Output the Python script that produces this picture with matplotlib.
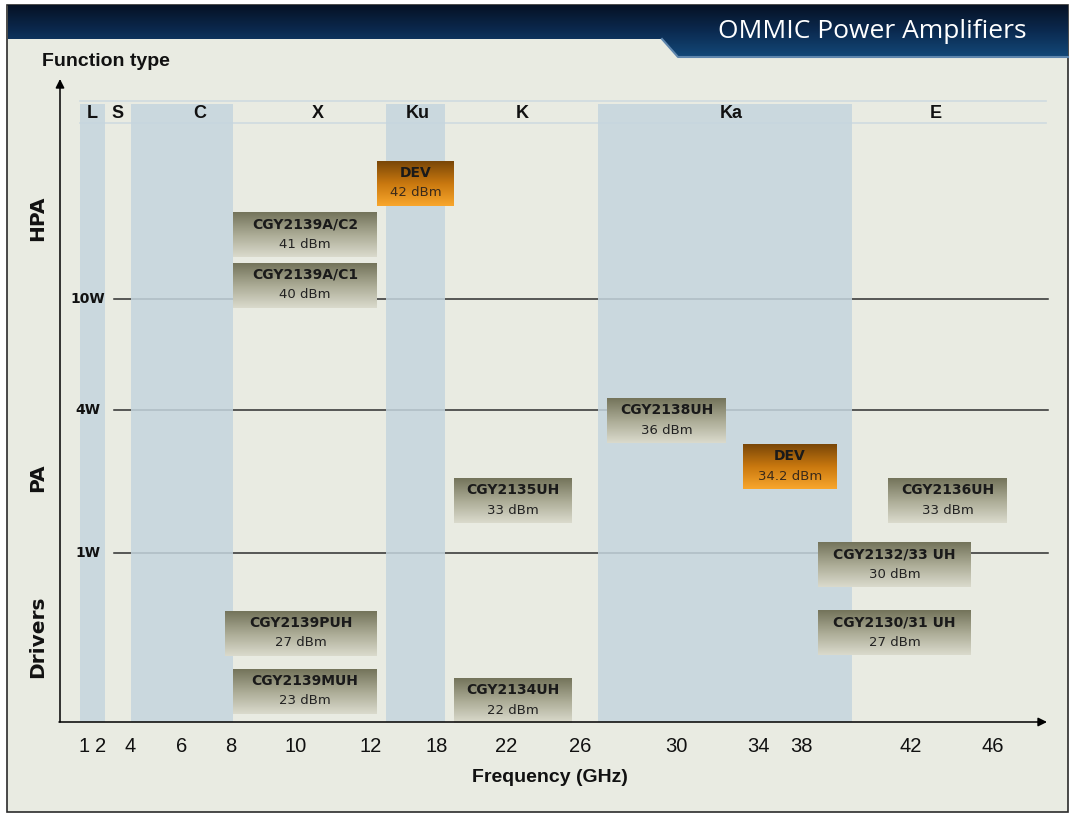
"""
Schéma OMMIC Power Amplifiers : fonction (HPA / PA / Drivers) vs bande de fréquence.
Sauve out.png (1076x815).
"""

import numpy as np
import matplotlib
matplotlib.use("Agg")
import matplotlib.pyplot as plt
from matplotlib.colors import LinearSegmentedColormap
from matplotlib.patches import Polygon, Rectangle

# --- données ---
BANDES = ["L", "S", "C", "X", "Ku", "K", "Ka", "E"]
BANDES_BLEUES = ["L", "C", "Ku", "Ka"]
FREQ_TICKS = ["1", "2", "4", "6", "8", "10", "12", "18", "22", "26",
              "30", "34", "38", "42", "46"]
NIVEAUX = ["10W", "4W", "1W"]
FONCTIONS = ["HPA", "PA", "Drivers"]

PUCES = ["DEV", "CGY2139A/C2", "CGY2139A/C1", "CGY2138UH", "DEV",
         "CGY2135UH", "CGY2136UH", "CGY2132/33 UH", "CGY2139PUH",
         "CGY2130/31 UH", "CGY2139MUH", "CGY2134UH"]
PUISSANCES = ["42 dBm", "41 dBm", "40 dBm", "36 dBm", "34.2 dBm",
              "33 dBm", "33 dBm", "30 dBm", "27 dBm",
              "27 dBm", "23 dBm", "22 dBm"]
EN_DEV = [True, False, False, False, True,
          False, False, False, False,
          False, False, False]

# --- mise en page (pixels de l'image) ---
W, H = 1076, 815
BANDE_X = [(80, 105), (105, 131), (131, 233), (233, 386), (386, 445),
           (445, 598), (598, 852), (852, 1046)]
BANDE_LBL_X = [92, 118, 200, 318, 418, 522, 731, 936]
TICK_X = [84, 101, 130, 182, 231, 296, 371, 437, 506, 580,
          676, 758, 801, 911, 993]
NIVEAU_Y = [299, 410, 553]
FONCTION_Y = [218, 478, 637]
BOITE_X = [(377, 454), (233, 377), (233, 377), (607, 726), (743, 837),
           (454, 572), (888, 1007), (818, 971), (225, 377),
           (818, 971), (233, 377), (454, 572)]
BOITE_Y = [161, 212, 263, 398, 444, 478, 478, 542, 611, 610, 669, 678]
BOITE_H = 45

FOND = "#e9ebe2"
BLEU = "#c5d5de"
ETROIT = ["Liberation Sans Narrow", "Liberation Sans", "DejaVu Sans"]

gris = LinearSegmentedColormap.from_list("gris", ["#74745b", "#abab95", "#dadacc"])
orange = LinearSegmentedColormap.from_list("orange", ["#7a4708", "#c9780f", "#f8a62c"])
navy = LinearSegmentedColormap.from_list("navy", ["#061225", "#0b2a50", "#134878"])
degrade = np.linspace(0, 1, 64).reshape(-1, 1)

fig = plt.figure(figsize=(W / 100, H / 100), dpi=100)
fig.patch.set_facecolor("white")
ax = fig.add_axes([0, 0, 1, 1])
ax.set_xlim(0, W)
ax.set_ylim(H, 0)
ax.axis("off")

# fond de la diapo + cadre
ax.add_patch(Rectangle((7, 5), 1061, 807, facecolor=FOND, edgecolor="#2b2b2b",
                       lw=1.2, zorder=0))

# bandeau du titre
pts = [(8, 5), (1068, 5), (1068, 57), (678, 57), (662, 39), (8, 39)]
bandeau = Polygon(pts, closed=True, facecolor="none", edgecolor="none")
ax.add_patch(bandeau)
im = ax.imshow(degrade, cmap=navy, extent=(8, 1068, 57, 5), origin="upper",
               aspect="auto", zorder=1)
im.set_clip_path(bandeau)
ax.plot([662, 678, 1068], [39, 57, 57], color="#5f86ad", lw=1.5, zorder=2)
ax.text(872, 32, "OMMIC Power Amplifiers", color="white", fontsize=19,
        family=["Open Sans", "DejaVu Sans"], ha="center", va="center", zorder=3)

# bandes de fréquence
ax.plot([80, 1046], [101, 101], color="#cfdbe0", lw=1.2, zorder=1)
ax.plot([80, 1046], [123, 123], color="#cfdbe0", lw=1.2, zorder=1)
for nom, (x0, x1), xl in zip(BANDES, BANDE_X, BANDE_LBL_X):
    if nom in BANDES_BLEUES:
        ax.add_patch(Rectangle((x0, 104), x1 - x0, 722 - 104, facecolor=BLEU,
                               edgecolor="none", alpha=0.85, zorder=3))
    ax.text(xl, 113, nom, fontsize=13, fontweight="bold", family=ETROIT,
            ha="center", va="center", color="#111111", zorder=4)

# niveaux de puissance
for lbl, y in zip(NIVEAUX, NIVEAU_Y):
    ax.plot([114, 1048], [y, y], color="#2e2e2e", lw=1.1, zorder=2)
    ax.text(88, y, lbl, fontsize=10, fontweight="bold", ha="center",
            va="center", color="#111111")

for lbl, y in zip(FONCTIONS, FONCTION_Y):
    ax.text(38, y, lbl, fontsize=14.5, fontweight="bold", rotation=90,
            ha="center", va="center", color="#111111")

# axes avec flèches
fleche = dict(arrowstyle="-|>", color="black", lw=1.1, mutation_scale=13,
              shrinkA=0, shrinkB=0)
ax.annotate("", xy=(60, 79), xytext=(60, 722), arrowprops=fleche, zorder=6)
ax.annotate("", xy=(1047, 722), xytext=(59, 722), arrowprops=fleche, zorder=6)

ax.text(42, 61, "Function type", fontsize=14, fontweight="bold", family=ETROIT,
        ha="left", va="center", color="#111111")
ax.text(550, 777, "Frequency (GHz)", fontsize=14, fontweight="bold",
        family=ETROIT, ha="center", va="center", color="#111111")
for lbl, x in zip(FREQ_TICKS, TICK_X):
    ax.text(x, 746, lbl, fontsize=14.5, family=ETROIT, ha="center", va="center",
            color="#111111")

# boîtes des produits
for nom, pw, dev, (x0, x1), y0 in zip(PUCES, PUISSANCES, EN_DEV, BOITE_X, BOITE_Y):
    y1 = y0 + BOITE_H
    ax.imshow(degrade, cmap=orange if dev else gris, extent=(x0, x1, y1, y0),
              origin="upper", aspect="auto", zorder=5)
    xc = (x0 + x1) / 2
    ax.text(xc, y0 + 12, nom, fontsize=10, fontweight="bold", ha="center",
            va="center", color="#1a1a1a", zorder=7)
    ax.text(xc, y0 + 32, pw, fontsize=9.5, ha="center", va="center",
            color="#3a2a1a" if dev else "#222222", zorder=7)

ax.set_xlim(0, W)
ax.set_ylim(H, 0)
fig.savefig("out.png", dpi=100, facecolor=fig.get_facecolor())
